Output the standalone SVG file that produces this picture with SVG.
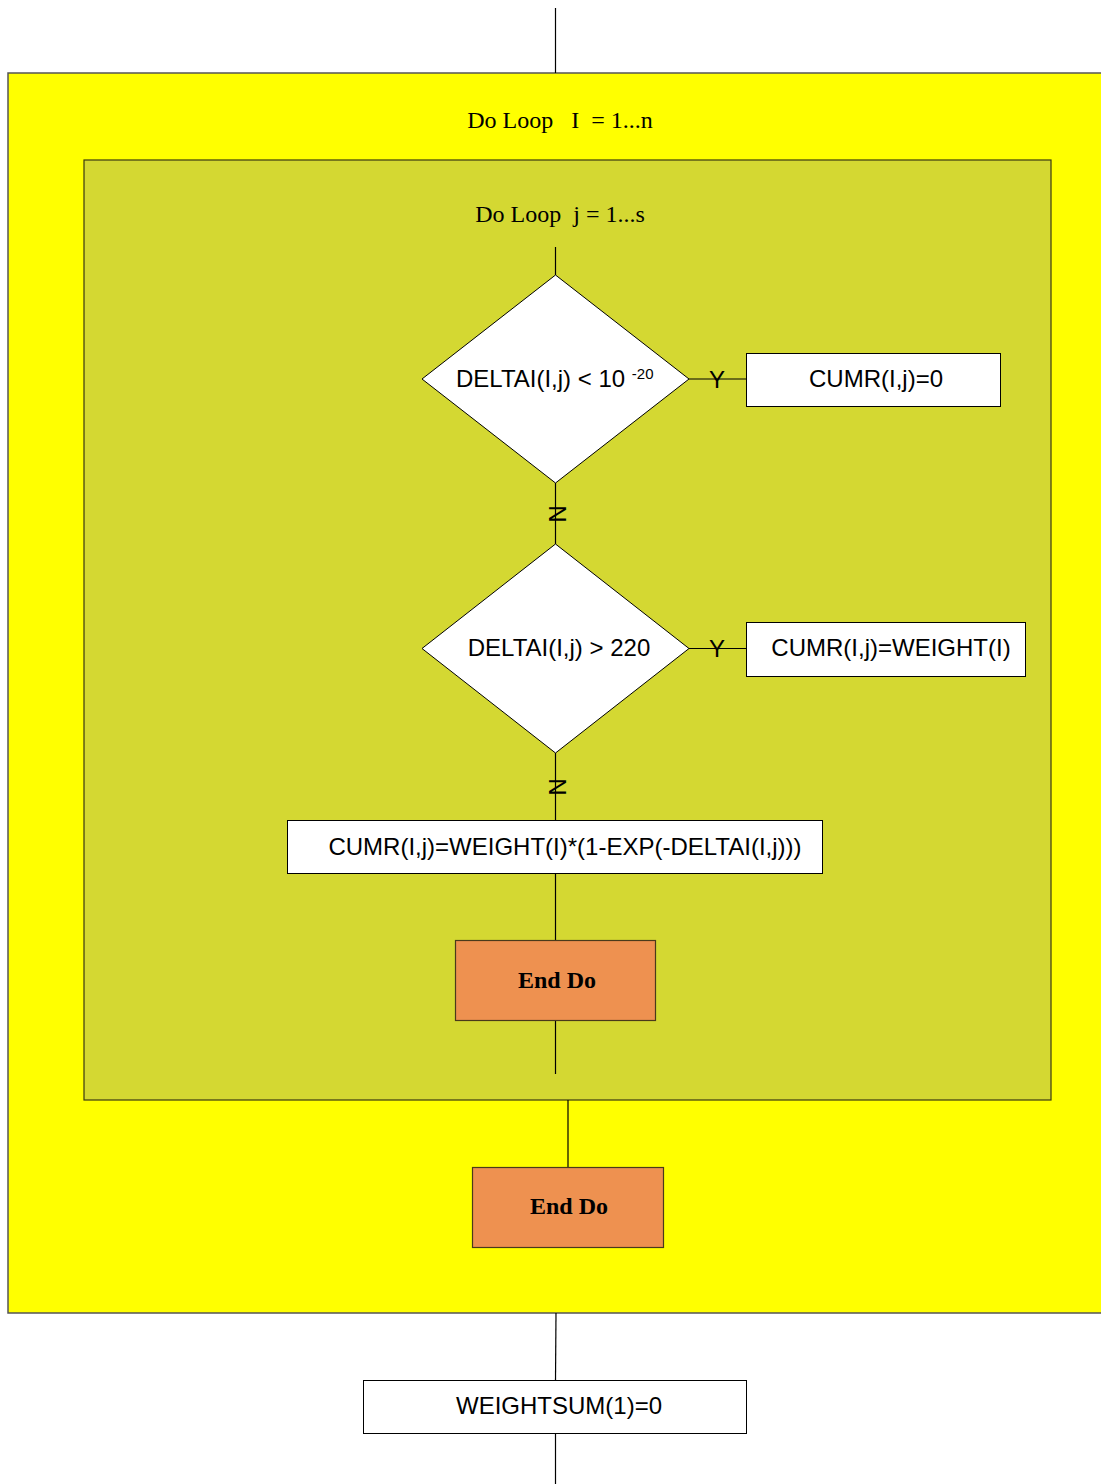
<svg xmlns="http://www.w3.org/2000/svg" width="1101" height="1484" viewBox="0 0 1101 1484">
  <style>
    .loop-title { font-family: "Liberation Serif", serif; font-size: 24px; fill: #000; }
    .label { font-family: "Liberation Sans", Arial, sans-serif; font-size: 24px; fill: #000; }
    .end { font-family: "Liberation Serif", serif; font-size: 24px; font-weight: bold; fill: #000; }
    .box { fill: #fff; stroke: #000; stroke-width: 1; }
    .decision { fill: #fff; stroke: #000; stroke-width: 1; }
    .enddo { fill: #ee9150; stroke: #4a3a1a; stroke-width: 1.2; }
    .wire { stroke: #000; stroke-width: 1.2; fill: none; }
  </style>
  <rect width="1101" height="1484" fill="#fff"/>

  <!-- outer loop region -->
  <g id="outer-loop">
    <rect x="8" y="73" width="1100" height="1240" fill="#ffff00" stroke="#555" stroke-width="1.5"/>
    <text class="loop-title" x="560" y="128" text-anchor="middle" xml:space="preserve">Do Loop   I  = 1...n</text>
  </g>

  <!-- inner loop region -->
  <g id="inner-loop">
    <rect x="84" y="160" width="967" height="940" fill="#d4d832" stroke="#3a3a10" stroke-width="1.2"/>
    <text class="loop-title" x="560" y="222" text-anchor="middle" xml:space="preserve">Do Loop  j = 1...s</text>
  </g>

  <!-- connectors -->
  <g id="connectors">
    <line class="wire" x1="555.5" y1="8" x2="555.5" y2="73"/>
    <line class="wire" x1="555.5" y1="247" x2="555.5" y2="275"/>
    <line class="wire" x1="689" y1="379" x2="746" y2="379"/>
    <line class="wire" x1="555.5" y1="483" x2="555.5" y2="544"/>
    <line class="wire" x1="689" y1="648.5" x2="746" y2="648.5"/>
    <line class="wire" x1="555.5" y1="753" x2="555.5" y2="820"/>
    <line class="wire" x1="555.5" y1="873" x2="555.5" y2="940"/>
    <line class="wire" x1="555.5" y1="1020" x2="555.5" y2="1074"/>
    <line class="wire" x1="568" y1="1100" x2="568" y2="1167"/>
    <line class="wire" x1="556" y1="1313" x2="555.5" y2="1380" stroke-width="2"/>
    <line class="wire" x1="555.5" y1="1433" x2="555.5" y2="1484"/>
    <text class="label" x="717" y="388" text-anchor="middle">Y</text>
    <text class="label" x="717" y="657" text-anchor="middle">Y</text>
    <text class="label" transform="translate(549,514) rotate(90)" text-anchor="middle">N</text>
    <text class="label" transform="translate(549,787) rotate(90)" text-anchor="middle">N</text>
  </g>

  <g id="decision-small">
    <polygon class="decision" points="555.5,275 689,379 555.5,483 422,379"/>
    <text class="label" x="456" y="387">DELTAI(I,j) &lt; 10 <tspan font-size="15" dy="-8">-20</tspan></text>
  </g>

  <g id="set-zero">
    <rect class="box" x="746.5" y="353.5" width="254" height="53"/>
    <text class="label" x="876" y="387" text-anchor="middle">CUMR(I,j)=0</text>
  </g>

  <g id="decision-large">
    <polygon class="decision" points="555.5,544 689,648.5 555.5,753 422,648.5"/>
    <text class="label" x="559" y="656" text-anchor="middle">DELTAI(I,j) &gt; 220</text>
  </g>

  <g id="set-weight">
    <rect class="box" x="746.5" y="622.5" width="279" height="54"/>
    <text class="label" x="891" y="656" text-anchor="middle">CUMR(I,j)=WEIGHT(I)</text>
  </g>

  <g id="set-exp">
    <rect class="box" x="287.5" y="820.5" width="535" height="53"/>
    <text class="label" x="565" y="855" text-anchor="middle">CUMR(I,j)=WEIGHT(I)*(1-EXP(-DELTAI(I,j)))</text>
  </g>

  <g id="end-inner">
    <rect class="enddo" x="455.5" y="940.5" width="200" height="80"/>
    <text class="end" x="557" y="988" text-anchor="middle">End Do</text>
  </g>

  <g id="end-outer">
    <rect class="enddo" x="472.5" y="1167.5" width="191" height="80"/>
    <text class="end" x="569" y="1214" text-anchor="middle">End Do</text>
  </g>

  <g id="weightsum">
    <rect class="box" x="363.5" y="1380.5" width="383" height="53"/>
    <text class="label" x="559" y="1414" text-anchor="middle">WEIGHTSUM(1)=0</text>
  </g>
</svg>
